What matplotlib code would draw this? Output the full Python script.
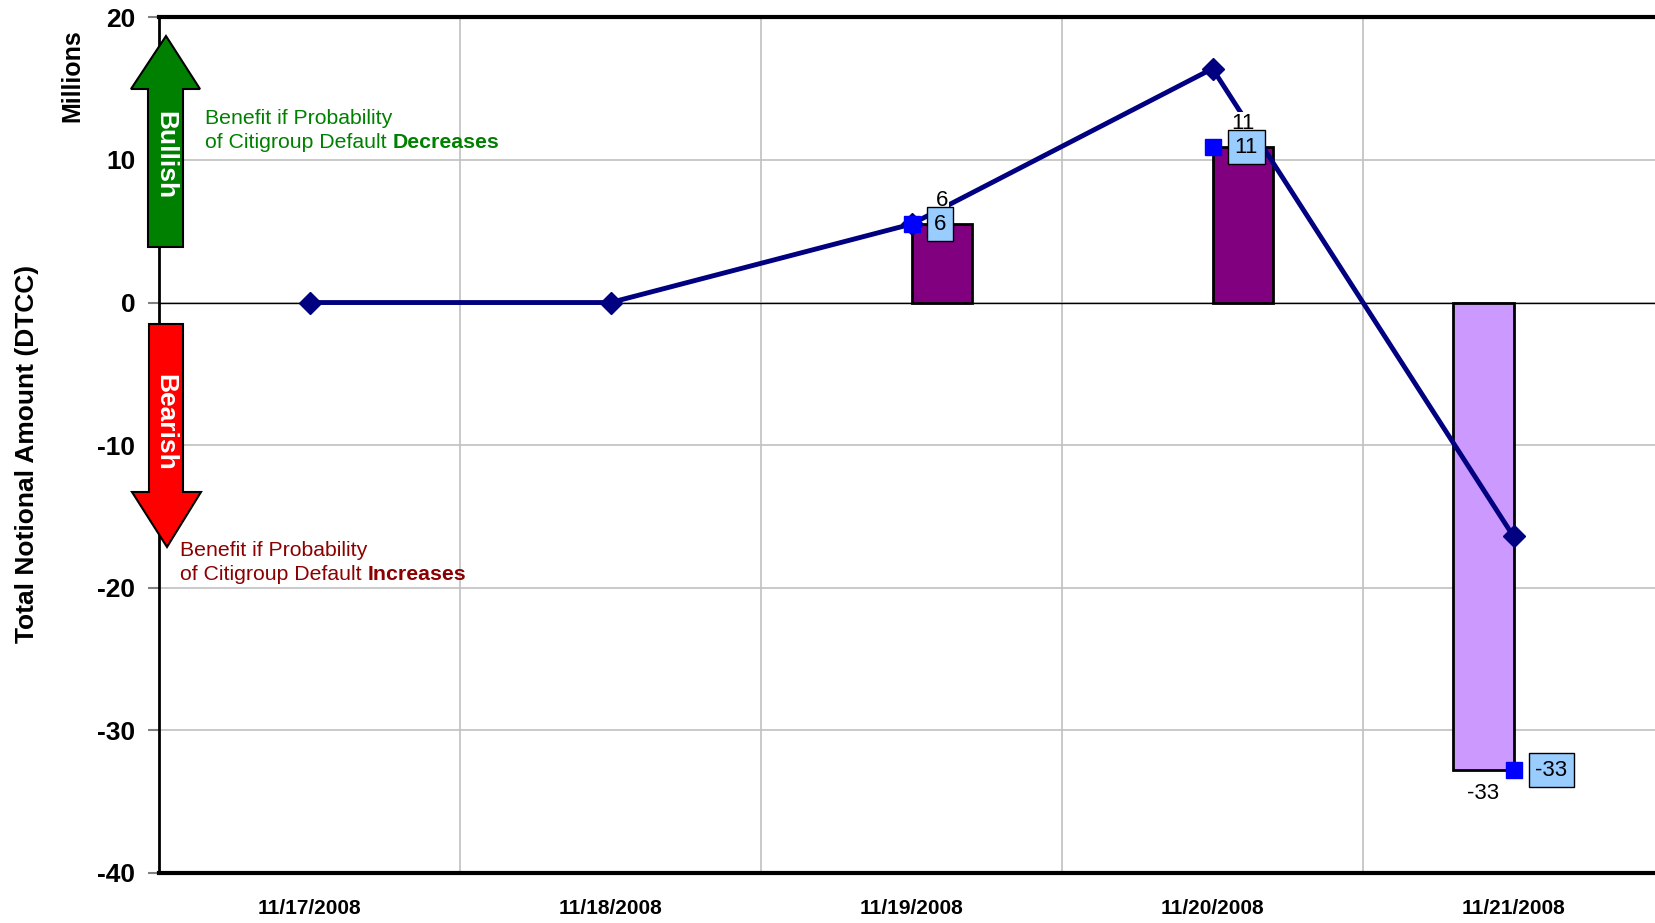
import numpy as np
import matplotlib
matplotlib.use("Agg")
import matplotlib.pyplot as plt
from matplotlib.patches import Polygon

plt.rcParams['font.family'] = ['Liberation Sans', 'DejaVu Sans']

# ---- data -------------------------------------------------------------
dates = ['11/17/2008', '11/18/2008', '11/19/2008', '11/20/2008', '11/21/2008']
net_position = [0.0, 0.0, 5.5, 16.4, -16.4]          # cumulative line (millions)
change_days = [2, 3, 4]                              # index of dates with a daily change
daily_change = [5.5, 10.9, -32.8]                    # daily change bars (millions)
bar_colors = ['#800080', '#800080', '#CC99FF']
y_ticks = [-40, -30, -20, -10, 0, 10, 20]

# ---- figure -----------------------------------------------------------
W, H = 1655, 923
fig = plt.figure(figsize=(W / 100, H / 100), dpi=100)


def fx(px):
    return px / W


def fy(py):
    return 1 - py / H


ax_left, ax_top, ax_bottom = 159, 17.3, 873
ax = fig.add_axes([fx(ax_left), fy(ax_bottom), 1 - fx(ax_left), fy(ax_top) - fy(ax_bottom)])
unit = 301.0
ax.set_xlim(-0.5, -0.5 + (W - ax_left) / unit)
ax.set_ylim(-40, 20)

# grid
for yv in y_ticks:
    ax.axhline(yv, color='#c0c0c0', lw=1.2, zorder=0)
for xv in np.arange(0.5, len(dates) - 0.5, 1):
    ax.axvline(xv, color='#c0c0c0', lw=1.2, zorder=0)
ax.axhline(0, color='black', lw=1.0, zorder=1)

# bars
bar_shift = [0.1, 0.1, -0.1]
bar_x = [d + s for d, s in zip(change_days, bar_shift)]
ax.bar(bar_x, daily_change, width=0.2, color=bar_colors, edgecolor='black',
       linewidth=2, zorder=2)

# cumulative line
x = np.arange(len(dates))
ax.plot(x, net_position, color='#000080', lw=3.5, marker='D', ms=11,
        mfc='#000080', mec='#000080', zorder=3)

# change markers
ax.plot(change_days, daily_change, ls='none', marker='s', ms=11,
        mfc='#0000FF', mec='#0000FF', zorder=4)

# labels
for bx, d, v in zip(bar_x, change_days, daily_change):
    lab = f"{int(np.floor(v + 0.5))}"
    off = 17 if v > 0 else -17
    ax.annotate(lab, xy=(bx, v), xytext=(0, off), textcoords='offset points',
                ha='center', va='center', fontsize=16, color='black', zorder=6,
                bbox=dict(boxstyle='square,pad=0.05', fc='white', ec='none'))
    ax.annotate(lab, xy=(d + 0.05, v), xytext=(5, 0), textcoords='offset points',
                ha='left', va='center', fontsize=16, color='black', zorder=6,
                bbox=dict(boxstyle='square,pad=0.3', fc='#99CCFF', ec='black', lw=1))

# axes styling
ax.set_yticks(y_ticks)
ax.set_yticklabels([str(t) for t in y_ticks], fontsize=19, fontweight='bold')
ax.tick_params(axis='y', length=8, width=1.5, color='#808080', pad=9)
ax.set_xticks(x)
ax.set_xticklabels(dates, fontsize=15, fontweight='bold')
ax.tick_params(axis='x', length=0, pad=19)
ax.spines['right'].set_visible(False)
ax.spines['left'].set_linewidth(2)
ax.spines['bottom'].set_linewidth(3)
ax.spines['top'].set_linewidth(3)

fig.text(fx(27), fy(454), 'Total Notional Amount (DTCC)', rotation=90,
         ha='center', va='center', fontsize=19, fontweight='bold')
fig.text(fx(72), fy(76), 'Millions', rotation=90, ha='center', va='center',
         fontsize=18, fontweight='bold')

# bullish / bearish arrows
up = [(166, 36), (200, 89), (183, 89), (183, 247), (148, 247), (148, 89), (131, 89)]
down = [(149, 324), (183, 324), (183, 492), (201, 492), (167, 547), (132, 492), (149, 492)]
for pts, col in ((up, '#008000'), (down, '#FF0000')):
    fig.add_artist(Polygon([(fx(a), fy(b)) for a, b in pts], closed=True,
                           fc=col, ec='black', lw=1.5, transform=fig.transFigure,
                           zorder=10))
fig.text(fx(165), fy(155), 'Bullish', rotation=-90, ha='center', va='center',
         color='white', fontsize=19, fontweight='bold', zorder=11)
fig.text(fx(165), fy(422), 'Bearish', rotation=-90, ha='center', va='center',
         color='white', fontsize=19, fontweight='bold', zorder=11)

# explanatory notes, with a bold last word
renderer = fig.canvas.get_renderer()


def note(x0, y1, y2, word, color):
    fig.text(fx(x0), fy(y1), 'Benefit if Probability', ha='left', va='center',
             fontsize=15.3, color=color, zorder=11)
    t = fig.text(fx(x0), fy(y2), 'of Citigroup Default ', ha='left', va='center',
                 fontsize=15.3, color=color, zorder=11)
    bb = t.get_window_extent(renderer=renderer)
    fig.text(bb.x1 / W, fy(y2), word, ha='left', va='center', fontsize=15.3,
             fontweight='bold', color=color, zorder=11)


note(205, 118, 143, 'Decreases', '#008000')
note(180, 550, 575, 'Increases', '#8B0000')

fig.savefig('out.png', dpi=100)
